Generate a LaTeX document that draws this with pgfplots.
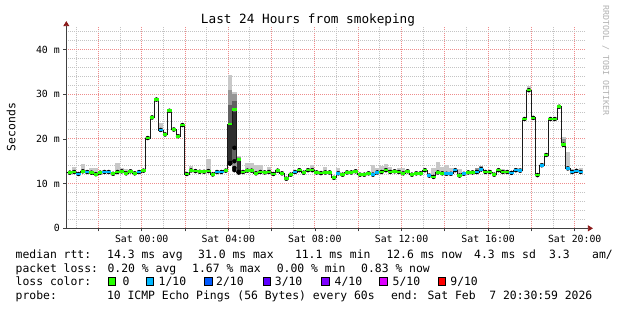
\documentclass[border=0pt]{standalone}
\usepackage{fontspec}
\setmainfont{DejaVu Sans Mono}
\usepackage{pgfplots}
\usepackage{pgfplotstable}
\pgfplotsset{compat=1.18}
\usetikzlibrary{arrows.meta}
\definecolor{lossA}{HTML}{26FF00}
\definecolor{lossB}{HTML}{00B8FF}
\definecolor{lossC}{HTML}{0059FF}
\definecolor{lossD}{HTML}{5E00FF}
\definecolor{lossE}{HTML}{7E00FF}
\definecolor{lossF}{HTML}{DD00FF}
\definecolor{lossG}{HTML}{FF0000}
\definecolor{mgrid}{HTML}{EE8C8C}
\definecolor{ngrid}{HTML}{C4C4C4}
\definecolor{smoke}{HTML}{C8C8C8}
\definecolor{smokemidc}{HTML}{969696}
\definecolor{smokedark2c}{HTML}{606060}
\definecolor{smokedarkc}{HTML}{2E2E2E}
\definecolor{arrowc}{HTML}{8B1A1A}

% x = hours relative to Sat 00:00, start of each 12-minute step
\pgfplotstableread{
x lo med hi c
-3.62 12.45 12.45 12.45 g
-3.42 12.45 12.45 12.45 g
-3.22 12.6 12.6 13.8 g
-3.02 12.15 12.15 12.15 b
-2.82 12.75 12.75 14.4 g
-2.62 12.6 12.6 12.6 b
-2.42 12.45 12.45 13.4 g
-2.22 12.1 12.1 13.4 g
-2.02 12.45 12.45 12.45 g
-1.82 12.6 12.6 13.0 b
-1.62 12.6 12.6 12.6 b
-1.42 12.2 12.2 12.2 g
-1.22 12.6 12.6 14.7 g
-1.02 12.75 12.75 13.4 g
-0.82 12.3 12.3 13.2 g
-0.62 12.75 12.75 12.75 g
-0.42 12.3 12.3 12.3 g
-0.22 12.6 12.6 12.6 b
-0.02 12.9 12.9 12.9 g
0.18 20.2 20.2 20.2 g
0.38 24.8 24.8 24.8 g
0.58 28.8 28.8 28.8 g
0.78 22.0 22.0 23.6 b
0.98 21.0 21.0 21.0 g
1.18 26.3 26.3 26.3 g
1.38 22.1 22.1 22.5 g
1.58 20.6 20.6 20.6 g
1.78 23.1 23.1 23.1 g
1.98 12.15 12.15 12.15 g
2.18 12.95 12.95 14.0 g
2.38 12.8 12.8 12.8 g
2.58 12.65 12.65 12.65 g
2.78 12.65 12.65 12.65 g
2.98 12.8 12.8 15.5 g
3.18 12.05 12.05 12.05 g
3.38 12.6 12.6 12.6 b
3.58 12.6 12.6 12.6 b
3.78 12.9 12.9 12.9 g
3.98 14.5 23.3 34.3 g
4.18 13.0 26.6 30.5 g
4.38 12.5 15.35 16.2 g
4.58 12.6 12.6 12.6 g
4.78 12.9 12.9 14.7 g
4.98 12.9 12.9 14.7 g
5.18 12.3 12.3 14.2 g
5.38 12.6 12.6 14.2 g
5.58 12.5 12.5 12.5 g
5.78 12.6 12.6 13.8 g
5.98 12.15 12.15 12.15 g
6.18 12.9 12.9 12.9 g
6.38 12.3 12.3 12.3 g
6.58 11.1 11.1 11.1 g
6.78 12.0 12.0 12.0 g
6.98 12.6 12.6 12.6 b
7.18 13.0 13.0 13.0 g
7.38 12.45 12.45 12.45 g
7.58 13.0 13.0 13.0 g
7.78 13.0 13.0 14.2 g
7.98 12.5 12.5 12.5 g
8.18 12.35 12.35 12.35 g
8.38 12.5 12.5 13.7 g
8.58 12.5 12.5 12.5 g
8.78 11.3 11.3 11.3 g
8.98 12.3 12.3 13.4 b
9.18 12.0 12.0 12.0 g
9.38 12.5 12.5 12.5 g
9.58 12.5 12.5 12.5 g
9.78 12.75 12.75 12.75 g
9.98 12.0 12.0 12.0 g
10.18 12.0 12.0 12.0 g
10.38 12.3 12.3 12.3 g
10.58 12.0 12.0 14.2 b
10.78 12.5 12.5 13.4 b
10.98 12.6 12.6 14.0 g
11.18 13.0 13.0 14.4 g
11.38 12.6 12.6 13.7 g
11.58 12.75 12.75 12.75 g
11.78 12.6 12.6 13.4 g
11.98 12.3 12.3 13.4 g
12.18 12.75 12.75 12.75 g
12.38 12.0 12.0 12.0 g
12.58 12.3 12.3 12.3 g
12.78 12.3 12.3 12.3 g
12.98 13.0 13.0 13.2 g
13.18 11.8 11.8 11.8 b
13.38 11.5 11.5 13.5 g
13.58 12.5 12.5 14.9 g
13.78 12.3 12.3 13.7 g
13.98 12.2 12.2 14.2 b
14.18 12.2 12.2 13.5 b
14.38 13.0 13.0 13.0 b
14.58 11.8 11.8 13.3 g
14.78 12.2 12.2 12.2 b
14.98 12.5 12.5 12.5 g
15.18 12.5 12.5 12.5 g
15.38 12.6 12.6 13.4 b
15.58 13.2 13.2 13.9 b
15.78 12.6 12.6 12.6 g
15.98 12.6 12.6 12.6 g
16.18 12.0 12.0 12.0 g
16.38 13.0 13.0 13.3 g
16.58 12.6 12.6 13.3 g
16.78 12.6 12.6 12.6 g
16.98 12.4 12.4 12.4 b
17.18 13.0 13.0 13.6 b
17.38 12.9 12.9 13.6 b
17.58 24.45 24.45 24.45 g
17.78 30.9 30.9 31.8 g
17.98 24.7 24.7 24.7 g
18.18 11.9 11.9 11.9 g
18.38 14.1 14.1 14.5 b
18.58 16.4 16.4 16.4 g
18.78 24.45 24.45 24.45 g
18.98 24.45 24.45 24.45 g
19.18 27.2 27.2 27.2 g
19.38 18.7 18.7 20.4 g
19.58 13.4 13.4 17.0 b
19.78 12.6 12.6 13.3 b
19.98 12.85 12.85 13.3 b
20.18 12.6 12.6 13.4 b
}\rtt

\pgfplotstableread{
x lo hi
3.98 14.5 31.0
4.18 13.5 30.0
4.38 12.5 16.0
15.38 12.6 13.4
15.58 13.2 13.9
19.38 18.7 20.0
}\smokemid

\pgfplotstableread{
x lo hi
3.98 14.6 27.5
4.18 15.0 28.5
4.38 12.6 15.6
}\smokedarktwo

\pgfplotstableread{
x lo hi
3.98 14.6 23.3
4.18 18.0 26.0
4.38 12.6 15.3
}\smokedark

\newcommand\leg{\fontsize{11.4}{14}\selectfont}
\newcommand\lt[3]{\node[anchor=base west, inner sep=0pt, font=\leg] at (#1pt,-#2pt) {#3};}
\newcommand\lbox[3]{\draw[fill=#3, draw=black, line width=0.8pt] (#1pt,-#2pt) rectangle ++(7.5pt,-7.5pt);}

\pgfplotsset{smokebar/.style={only marks, mark=none,
  error bars/.cd, y dir=plus, y explicit, error mark=none,
  error bar style={draw=#1, line width=4.33pt}}}

\begin{document}
\begin{tikzpicture}
\path[use as bounding box, fill=white] (0pt,0pt) rectangle (617pt,-310pt);
\begin{axis}[
  at={(66.3pt,-228.3pt)}, anchor=south west,
  x=21.65pt, y=4.47pt,
  xmin=-3.4836, xmax=20.5164, ymin=0, ymax=45,
  enlargelimits=false,
  axis x line=bottom, axis y line=left,
  axis line style={draw=black!75, line width=0.8pt},
  x axis line style={shorten >=-7pt, -{Triangle[length=5pt,width=6pt,color=arrowc]}},
  y axis line style={shorten >=-6pt, -{Triangle[length=5pt,width=6pt,color=arrowc]}},
  xtick={-2,0,...,20},
  xticklabels={{},Sat 00:00,{},Sat 04:00,{},Sat 08:00,{},Sat 12:00,{},Sat 16:00,{},Sat 20:00},
  minor xtick={-3,-1,...,19},
  ytick={0,10,20,30,40},
  yticklabels={0,10 m,20 m,30 m,40 m},
  minor ytick={2,4,6,8,12,14,16,18,22,24,26,28,32,34,36,38,42,44},
  grid=both,
  major grid style={draw=mgrid, line width=1pt, dash pattern=on 1pt off 1pt},
  minor grid style={draw=ngrid, line width=1pt, dash pattern=on 1pt off 1pt},
  tick align=outside,
  major tick length=3pt, minor tick length=0pt,
  tick style={draw=black!75, line width=0.8pt},
  ticklabel style={font=\fontsize{9.85}{12}\selectfont, text=black},
]
% light smoke (min..max of the pings)
\addplot[smokebar=smoke] table[x expr=\thisrow{x}+0.1, y=lo, y error expr=\thisrow{hi}-\thisrow{lo}]{\rtt};
% medium / dark smoke
\addplot[smokebar=smokemidc] table[x expr=\thisrow{x}+0.1, y=lo, y error expr=\thisrow{hi}-\thisrow{lo}]{\smokemid};
\addplot[smokebar=smokedark2c] table[x expr=\thisrow{x}+0.1, y=lo, y error expr=\thisrow{hi}-\thisrow{lo}]{\smokedarktwo};
\addplot[smokebar=smokedarkc] table[x expr=\thisrow{x}+0.1, y=lo, y error expr=\thisrow{hi}-\thisrow{lo}]{\smokedark};
% median step line
\addplot[const plot, draw=black!90, line width=0.8pt] table[x=x,y=med]{\rtt};
% median coloured by loss
\addplot[scatter, only marks, scatter src=explicit symbolic,
  mark size=2.165pt,
  scatter/classes={
    g={mark=-, draw=lossA, line width=2.6pt},
    b={mark=-, draw=lossB, line width=2.6pt}}]
  table[x expr=\thisrow{x}+0.1, y=med, meta=c]{\rtt};
\end{axis}

\node[anchor=base, inner sep=0pt, font=\fontsize{12.7}{14}\selectfont] at (308pt,-23.5pt) {Last 24 Hours from smokeping};
\node[rotate=90, anchor=center, inner sep=0pt, font=\leg] at (11pt,-127pt) {Seconds};
\node[rotate=-90, anchor=base west, inner sep=0pt, font=\fontsize{8.3}{10}\selectfont, text=black!30] at (603pt,-5pt) {RRDTOOL / TOBI OETIKER};

\lt{15.5}{258}{median rtt:}
\lt{107}{258}{14.3 ms avg}
\lt{198}{258}{31.0 ms max}
\lt{294.8}{258}{11.1 ms min}
\lt{386.3}{258}{12.6 ms now}
\lt{474}{258}{4.3 ms sd}
\lt{549}{258}{3.3}
\lt{592}{258}{am/}

\lt{15.5}{272}{packet loss:}
\lt{107.4}{272}{0.20 \% avg}
\lt{192}{272}{1.67 \% max}
\lt{276.6}{272}{0.00 \% min}
\lt{361}{272}{0.83 \% now}

\lt{15.5}{285.5}{loss color:}
\lbox{108.3}{277.8}{lossA}\lt{122.4}{285.5}{0}
\lbox{146.0}{277.8}{lossB}\lt{158.5}{285.5}{1/10}
\lbox{204.5}{277.8}{lossC}\lt{216.0}{285.5}{2/10}
\lbox{263.0}{277.8}{lossD}\lt{274.7}{285.5}{3/10}
\lbox{321.5}{277.8}{lossE}\lt{334.5}{285.5}{4/10}
\lbox{379.5}{277.8}{lossF}\lt{392.5}{285.5}{5/10}
\lbox{438.0}{277.8}{lossG}\lt{450.2}{285.5}{9/10}

\lt{15.5}{299.5}{probe:}
\lt{106.8}{299.5}{10 ICMP Echo Pings (56 Bytes) every 60s}
\lt{390.8}{299.5}{end: Sat Feb~~7 20:30:59 2026}
\end{tikzpicture}
\end{document}
